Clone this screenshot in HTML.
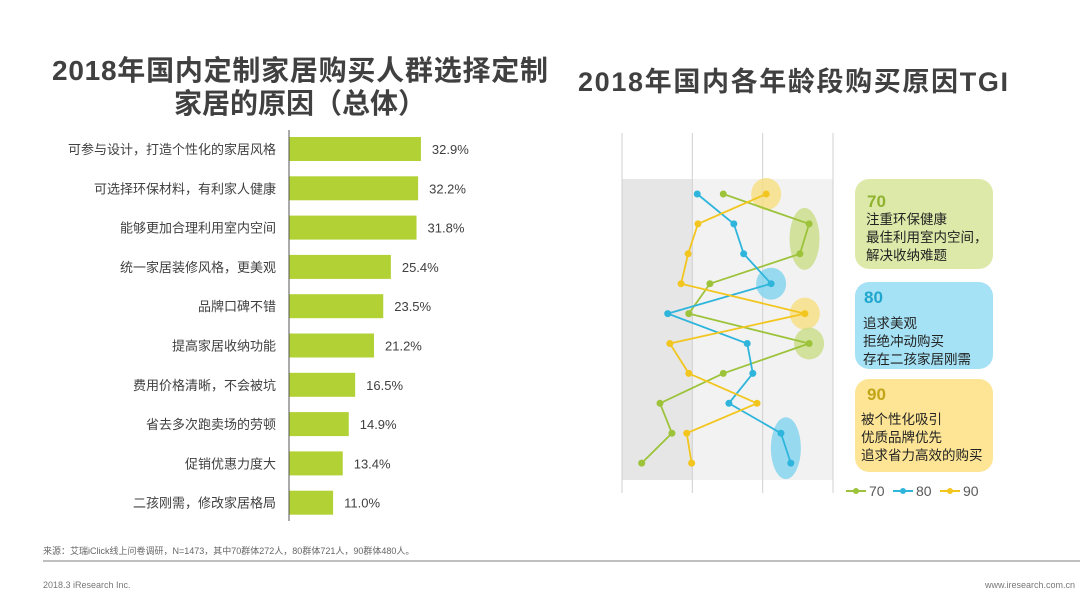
<!DOCTYPE html>
<html><head><meta charset="utf-8"><style>
body{margin:0;width:1080px;height:597px;background:#fff;overflow:hidden;font-family:"Liberation Sans","Noto Sans CJK SC",sans-serif;}
svg{position:absolute;left:0;top:0}
</style></head><body>
<svg width="1080" height="597" id="chart" font-family="Liberation Sans, Noto Sans CJK SC, sans-serif">
<text x="300" y="80" text-anchor="middle" font-size="28" font-weight="bold" fill="#404040" textLength="496">2018年国内定制家居购买人群选择定制</text>
<text x="300" y="113" text-anchor="middle" font-size="28" font-weight="bold" fill="#404040">家居的原因（总体）</text>
<text x="793" y="91" text-anchor="middle" font-size="27" font-weight="bold" fill="#404040" textLength="430">2018年国内各年龄段购买原因TGI</text>
<g id="bars"></g>
<g id="tgi"></g>
<g font-size="14" fill="#595959">
 <line x1="846" y1="491" x2="866" y2="491" stroke="#9dc33b" stroke-width="2"/><circle cx="856" cy="491" r="3" fill="#9dc33b"/><text x="869" y="496">70</text>
 <line x1="893" y1="491" x2="913" y2="491" stroke="#2fb5dc" stroke-width="2"/><circle cx="903" cy="491" r="3" fill="#2fb5dc"/><text x="916" y="496">80</text>
 <line x1="940" y1="491" x2="960" y2="491" stroke="#f2c61f" stroke-width="2"/><circle cx="950" cy="491" r="3" fill="#f2c61f"/><text x="963" y="496">90</text>
</g>
<g>
 <rect x="855" y="179" width="138" height="90" rx="14" fill="#dde9a9"/>
 <text x="867" y="207" font-size="17" font-weight="bold" fill="#8fb22f">70</text>
 <text font-size="13.5" fill="#222"><tspan x="866" y="224">注重环保健康</tspan><tspan x="866" y="242">最佳利用室内空间，</tspan><tspan x="866" y="260">解决收纳难题</tspan></text>
</g>
<g>
 <rect x="855" y="282" width="138" height="87" rx="14" fill="#a5e2f5"/>
 <text x="864" y="303" font-size="17" font-weight="bold" fill="#1fa6cc">80</text>
 <text font-size="13.5" fill="#222"><tspan x="863" y="328">追求美观</tspan><tspan x="863" y="346">拒绝冲动购买</tspan><tspan x="863" y="364">存在二孩家居刚需</tspan></text>
</g>
<g>
 <rect x="855" y="379" width="138" height="93" rx="14" fill="#fde595"/>
 <text x="867" y="400" font-size="17" font-weight="bold" fill="#c2a516">90</text>
 <text font-size="13.5" fill="#222"><tspan x="861" y="424">被个性化吸引</tspan><tspan x="861" y="442">优质品牌优先</tspan><tspan x="861" y="460">追求省力高效的购买</tspan></text>
</g>
<text x="43" y="554" font-size="9" fill="#666">来源：艾瑞iClick线上问卷调研，N=1473，其中70群体272人，80群体721人，90群体480人。</text>
<line x1="43" y1="561" x2="1080" y2="561" stroke="#aaa" stroke-width="1.5"/>
<text x="43" y="588" font-size="9" fill="#777">2018.3 iResearch Inc.</text>
<text x="1075" y="588" font-size="9" fill="#777" text-anchor="end">www.iresearch.com.cn</text>
</svg>
<script>
const categories=["可参与设计，打造个性化的家居风格","可选择环保材料，有利家人健康","能够更加合理利用室内空间","统一家居装修风格，更美观","品牌口碑不错","提高家居收纳功能","费用价格清晰，不会被坑","省去多次跑卖场的劳顿","促销优惠力度大","二孩刚需，修改家居格局"];
const shares=[32.9,32.2,31.8,25.4,23.5,21.2,16.5,14.9,13.4,11.0];
const tgi70=[144,266,253,125,95,266,144,54,71,28];
const tgi80=[107,159,173,212,65,178,186,152,226,240];
const tgi90=[205,108,94,84,260,68,95,192,92,99];
const highlights=[[90,0],[70,1.5],[80,3],[90,4],[70,5],[80,8.5]];
const NS="http://www.w3.org/2000/svg";
function mk(t,a,p){const e=document.createElementNS(NS,t);for(const k in a)e.setAttribute(k,a[k]);p.appendChild(e);return e;}
const bx=v=>289+v*4.01, by=i=>149+i*39.3;
const bg=document.getElementById('bars');
categories.forEach((c,i)=>{
 const r=mk('rect',{x:289,y:by(i)-12,width:bx(shares[i])-289,height:24,fill:'#b1d135'},bg);
 
 
 const l=mk('text',{x:276,y:by(i)+5,'text-anchor':'end','font-size':13,fill:'#404040'},bg);l.textContent=c;
 
 
 const v=mk('text',{x:bx(shares[i])+11,y:by(i)+5,'font-size':13,fill:'#404040'},bg);v.textContent=shares[i].toFixed(1)+'%';
 
 
});
const ax=mk('line',{x1:289,y1:130,x2:289,y2:521,stroke:'#555','stroke-width':1},bg);


const tx=v=>622+v*211/300, ty=i=>194+i*29.9;
const tg=document.getElementById('tgi');
const band1=mk('rect',{x:622,y:179,width:70,height:301,fill:'#e6e6e6'},tg);


const band2=mk('rect',{x:692,y:179,width:141,height:301,fill:'#f2f2f2'},tg);


[0,100,200,300].forEach(v=>{const g=mk('line',{x1:tx(v),y1:133,x2:tx(v),y2:493,stroke:'#d0d0d0','stroke-width':1},tg);
 
 });
const series={70:[tgi70,'#9dc33b','#c9dc86'],80:[tgi80,'#2fb5dc','#7fd3ee'],90:[tgi90,'#f2c61f','#f8df80']};
highlights.forEach(h=>{const s=series[h[0]][0];const r0=Math.floor(h[1]),r1=Math.ceil(h[1]);
 const cx=(tx(s[r0])+tx(s[r1]))/2;const span=(r1-r0)*29.9;
 const e=mk('ellipse',{cx:cx,cy:ty(h[1]),rx:15,ry:16+span/2,fill:series[h[0]][2],opacity:0.8},tg);
 
 });
Object.keys(series).forEach(k=>{const [d,c]=series[k];
 const p=mk('polyline',{points:d.map((v,i)=>tx(v)+','+ty(i)).join(' '),fill:'none',stroke:c,'stroke-width':1.8},tg);
 
 
 d.forEach((v,i)=>{const pt=mk('circle',{cx:tx(v),cy:ty(i),r:3.5,fill:c},tg);
  
  });
});
</script>
</body></html>
